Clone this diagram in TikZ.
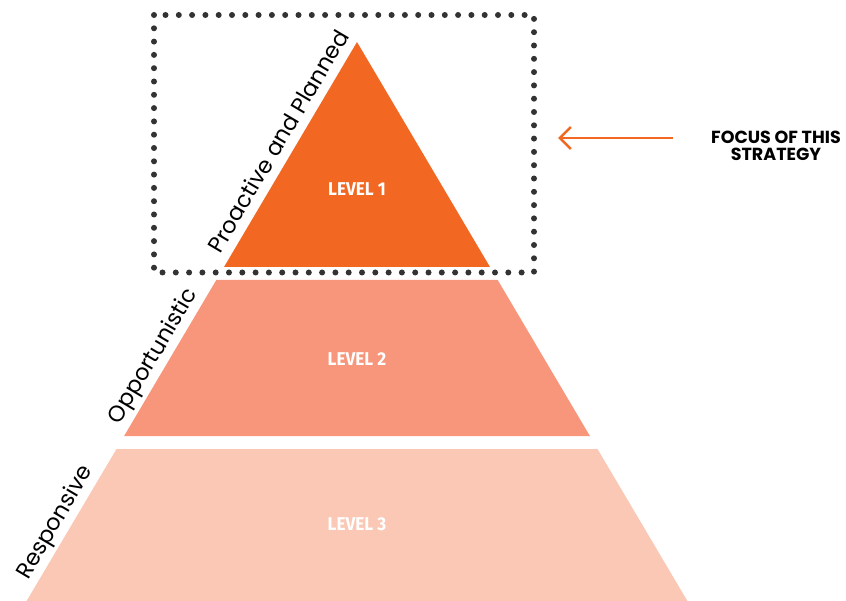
\documentclass[tikz,border=0pt]{standalone}
\usepackage{fontspec}
\setmainfont{Poppins}
\newfontfamily\levelfont[FakeStretch=0.93]{Fira Sans}
\usetikzlibrary{arrows.meta}
\definecolor{levelone}{HTML}{F26722}
\definecolor{leveltwo}{HTML}{F7967A}
\definecolor{levelthree}{HTML}{FAC8B4}
\definecolor{dotgrey}{HTML}{333333}
\tikzset{
  lvl/.style={font=\levelfont\bfseries\fontsize{18.5}{20}\selectfont, text=white},
  side/.style={font=\fontsize{22.5}{26}\selectfont, sloped, above, text depth=0pt, inner xsep=0pt, inner ysep=9pt},
  dotbox/.style={dotgrey, line width=6pt, line cap=round, dash pattern=on 0pt off 13.3pt},
}
\begin{document}
\begin{tikzpicture}[x=1pt,y=-1pt]
\useasboundingbox (0,0) rectangle (846,601);
% pyramid, one big triangle cut in three
\coordinate (apex) at (357,42);
\coordinate (onel) at (224,267);
\coordinate (oner) at (490,267);
\coordinate (twotl) at (216.3,280);
\coordinate (twotr) at (497.7,280);
\coordinate (twobl) at (124.1,436);
\coordinate (twobr) at (589.9,436);
\coordinate (threetl) at (116.5,449);
\coordinate (threetr) at (597.5,449);
\coordinate (threebl) at (26.6,601);
\coordinate (threebr) at (687.4,601);
\fill[levelone] (apex) -- (onel) -- (oner) -- cycle;
\fill[leveltwo] (twotl) -- (twobl) -- (twobr) -- (twotr) -- cycle;
\fill[levelthree] (threetl) -- (threebl) -- (threebr) -- (threetr) -- cycle;
%\draw[red] (0,0) grid[step=50] (846,601);
\draw[dotbox] (154,15) rectangle (534,272.5);
\node[lvl] (lvlone) at (357,189.5) {LEVEL 1};
\node[lvl] (lvltwo) at (357,359.5) {LEVEL 2};
\node[lvl] (lvlthree) at (357,524) {LEVEL 3};
% labels along the left edge
\path (onel) -- node[side, pos=0.52] (proactive) {Proactive and Planned} (apex);
\path (twobl) -- node[side, pos=0.46] (opport) {Opportunistic} (twotl);
\path (threebl) -- node[side, pos=0.465] (respons) {Responsive} (threetl);
% focus arrow
\node[font=\bfseries\fontsize{17.5}{17}\selectfont, align=center] (focus) at (776,146) {FOCUS OF THIS\\STRATEGY};
\coordinate (arrowstart) at (673,138);
\coordinate (arrowend) at (558,138);
\draw[levelone, line width=2.5pt, -{Straight Barb[length=11pt, width=22pt]}] (arrowstart) -- (arrowend);
\end{tikzpicture}
\end{document}
